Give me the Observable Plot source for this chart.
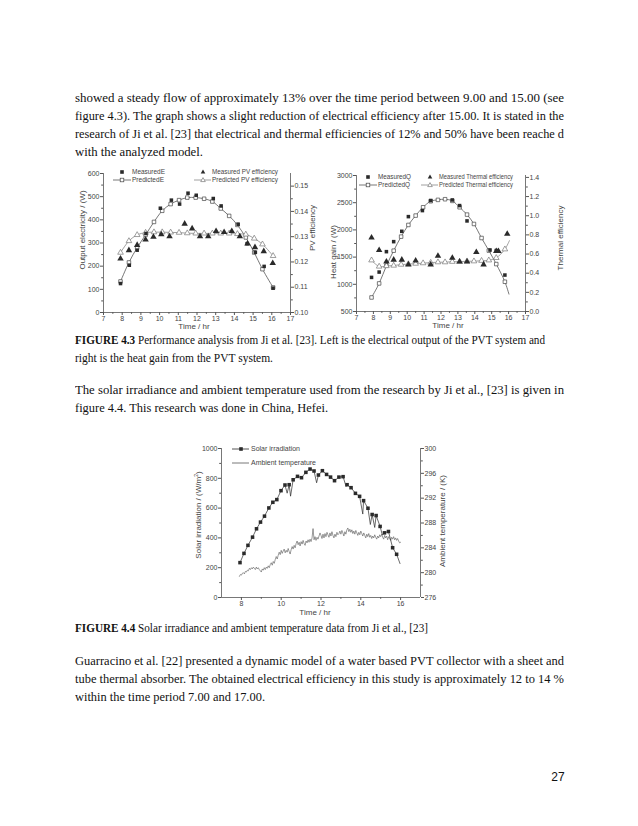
<!DOCTYPE html>
<html><head><meta charset="utf-8">
<script src="https://cdn.jsdelivr.net/npm/d3@7"></script>
<script src="https://cdn.jsdelivr.net/npm/@observablehq/plot@0.6"></script>
<style>
body{margin:0;background:#fff;}
#page{position:relative;width:638px;height:826px;overflow:hidden;background:#fff;}
.ln{position:absolute;left:75px;white-space:nowrap;font-family:"Liberation Serif","DejaVu Serif",serif;color:#111;transform-origin:0 50%;line-height:1;}
.body{font-size:13px;}
.cap{font-size:11.5px;}
.chart{position:absolute;}
.lab{position:absolute;font-family:"Liberation Sans",Arial,sans-serif;font-size:8px;color:#444;white-space:nowrap;transform:translate(-50%,-50%);}
.rot{transform:translate(-50%,-50%) rotate(-90deg);}
#pn{position:absolute;left:558px;top:777px;transform:translate(-50%,-50%);font-family:"Liberation Sans",Arial,sans-serif;font-size:12px;color:#111;}
</style>
</head><body>
<div id="page">
<div class="ln body" data-w="489" data-j="1" style="top:91px">showed a steady flow of approximately 13% over the time period between 9.00 and 15.00 (see</div>
<div class="ln body" data-w="489" data-j="1" style="top:109px">figure 4.3). The graph shows a slight reduction of electrical efficiency after 15.00. It is stated in the</div>
<div class="ln body" data-w="489" data-j="1" style="top:127px">research of Ji et al. [23] that electrical and thermal efficiencies of 12% and 50% have been reache d</div>
<div class="ln body" data-w="128" style="top:145px">with the analyzed model.</div>

<div class="ln cap" data-w="470" style="top:335px"><b>FIGURE 4.3</b> Performance analysis from Ji et al. [23]. Left is the electrical output of the PVT system and</div>
<div class="ln cap" data-w="198" style="top:353px">right is the heat gain from the PVT system.</div>

<div class="ln body" data-w="489" data-j="1" style="top:383px">The solar irradiance and ambient temperature used from the research by Ji et al., [23] is given in</div>
<div class="ln body" data-w="253" style="top:401px">figure 4.4. This research was done in China, Hefei.</div>

<div class="ln cap" data-w="353" style="top:623px"><b>FIGURE 4.4</b> Solar irradiance and ambient temperature data from Ji et al., [23]</div>

<div class="ln body" data-w="489" data-j="1" style="top:654px">Guarracino et al. [22] presented a dynamic model of a water based PVT collector with a sheet and</div>
<div class="ln body" data-w="489" data-j="1" style="top:672px">tube thermal absorber. The obtained electrical efficiency in this study is approximately 12 to 14 %</div>
<div class="ln body" data-w="190" style="top:690px">within the time period 7.00 and 17.00.</div>

<div id="pn">27</div>

<div id="chartA" class="chart" style="left:78px;top:163px"></div>
<div id="chartB" class="chart" style="left:328px;top:163px"></div>
<div id="chartC" class="chart" style="left:190px;top:440px"></div>

<div class="lab rot" style="left:82px;top:230px">Output electricity / (W)</div>
<div class="lab rot" style="left:312px;top:228px">PV efficiency</div>
<div class="lab" style="left:194px;top:326px">Time / hr</div>

<div class="lab rot" style="left:333px;top:252px">Heat gain / (W)</div>
<div class="lab rot" style="left:560px;top:238px">Thermal efficiency</div>
<div class="lab" style="left:448px;top:325px">Time / hr</div>

<div class="lab rot" style="left:198px;top:515px">Solar irradiation / (W/m<sup style="font-size:5px">2</sup>)</div>
<div class="lab rot" style="left:442px;top:521px">Ambient temperature / (K)</div>
<div class="lab" style="left:315px;top:612px">Time / hr</div>

<svg id="legend" width="638" height="826" style="position:absolute;left:0;top:0;pointer-events:none"></svg>
</div>
<script>
// ---------- Chart A: electrical output ----------
const measE_t = [7.91, 8.38, 8.80, 9.27, 10.04, 10.63, 11.07, 11.52, 11.96, 12.87, 13.29, 14.20, 14.68, 15.12, 15.59, 16.07];
const measE   = [125, 204, 269, 341, 450, 485, 468, 515, 506, 492, 460, 381, 297, 260, 199, 105];
const predE_t = [7.91, 8.36, 8.80, 9.25, 9.70, 10.14, 10.59, 11.04, 11.48, 11.93, 12.38, 12.82, 13.27, 13.72, 14.16, 14.61, 15.06, 15.50, 16.07];
const predE   = [134, 216, 280, 335, 391, 439, 468, 485, 496, 496, 491, 479, 449, 417, 378, 324, 259, 187, 108];
const measPV_t = [7.91, 8.36, 8.80, 9.25, 9.67, 10.09, 10.53, 11.34, 11.74, 12.16, 12.60, 13.02, 13.45, 13.86, 14.29, 14.70, 15.10, 15.57, 16.05];
const measPV   = [0.1213, 0.1246, 0.1267, 0.1288, 0.1299, 0.1309, 0.1301, 0.1351, 0.1332, 0.1301, 0.1301, 0.1322, 0.1318, 0.1322, 0.1301, 0.1272, 0.1258, 0.1242, 0.1195];
const predPV   = [0.1237, 0.1283, 0.1307, 0.1316, 0.1318, 0.1318, 0.1317, 0.1316, 0.1314, 0.1313, 0.1313, 0.1313, 0.1313, 0.1313, 0.1311, 0.1309, 0.1293, 0.1270, 0.1224];
const ticksE = [0, 100, 200, 300, 400, 500, 600];
const ticksPV = [0.10, 0.11, 0.12, 0.13, 0.14, 0.15];

// ---------- Chart B: heat gain ----------
const measQ_t = [7.89, 8.34, 8.77, 9.20, 9.68, 10.07, 10.90, 11.39, 12.67, 13.10, 13.54, 14.90, 15.27, 15.78];
const measQ   = [1127, 1225, 1600, 1784, 1974, 2244, 2355, 2540, 2550, 2447, 2165, 1630, 1620, 1170];
const predQ_t = [7.89, 8.34, 8.77, 9.20, 9.64, 10.07, 10.50, 10.94, 11.39, 11.82, 12.24, 12.67, 13.10, 13.54, 13.95, 14.40, 14.83, 15.27, 15.78];
const predQ   = [758, 1016, 1341, 1618, 1876, 2091, 2263, 2416, 2527, 2552, 2564, 2533, 2416, 2281, 2109, 1851, 1620, 1372, 1047];
const predQEnd = [16.02, 820];
const measTh_t = [7.89, 8.34, 8.77, 9.20, 9.68, 10.07, 10.50, 11.39, 11.82, 12.67, 13.10, 13.54, 14.09, 14.52, 15.27, 15.40, 15.92];
const measTh   = [0.77, 0.64, 0.52, 0.54, 0.54, 0.49, 0.53, 0.49, 0.58, 0.56, 0.52, 0.52, 0.62, 0.49, 0.63, 0.63, 0.81];
const predTh   = [0.535, 0.47, 0.475, 0.48, 0.49, 0.495, 0.50, 0.505, 0.51, 0.515, 0.515, 0.52, 0.52, 0.525, 0.525, 0.53, 0.535, 0.56, 0.65];
const predThEnd = [16.05, 0.74];
const ticksQ = [500, 1000, 1500, 2000, 2500, 3000];
const ticksTh = [0.0, 0.2, 0.4, 0.6, 0.8, 1.0, 1.2, 1.4];

// ---------- Chart C: solar irradiation & ambient temperature ----------
const solar_t = [7.93, 8.13, 8.33, 8.56, 8.76, 8.96, 9.16, 9.38, 9.58, 9.78, 9.99, 10.19, 10.40, 10.60, 10.82, 11.02, 11.24, 11.45, 11.65, 11.87, 12.07, 12.28, 12.48, 12.68, 12.90, 13.11, 13.31, 13.51, 13.73, 13.94, 14.14, 14.36, 14.57, 14.77, 14.97, 15.19, 15.39, 15.60, 15.80];
const solar   = [234, 296, 350, 405, 461, 506, 546, 601, 639, 657, 717, 755, 757, 790, 813, 804, 840, 862, 849, 822, 851, 826, 808, 784, 808, 811, 757, 737, 699, 679, 650, 599, 557, 550, 477, 434, 443, 334, 290];
const solarDip_t = [10.30, 10.47, 11.78, 13.26, 14.10, 14.48, 14.70, 15.08, 15.97];
const solarDip   = [700, 680, 770, 745, 560, 490, 470, 420, 228];
const ambStart = 7.90, ambStep = 0.05;
const ambient = [
 279.4, 279.7, 279.6, 279.9, 280.0, 279.8, 280.2, 280.1, 280.4, 280.3, 280.7, 280.5, 280.8, 280.6, 280.9, 280.7, 280.5, 280.9, 280.6, 280.8,
 280.5, 280.3, 280.1, 280.6, 280.4, 280.8, 280.5, 280.9, 280.7, 281.1, 280.8, 281.3, 281.6, 281.2, 281.8, 281.5, 282.1, 282.6, 282.2, 282.8,
 283.3, 282.9, 283.6, 283.1, 283.5, 283.8, 283.2, 283.6, 283.3, 283.9, 283.4, 283.0, 283.7, 284.2, 283.8, 284.4, 284.0, 284.7, 285.1, 284.5,
 284.9, 284.3, 285.0, 284.6, 285.2, 284.7, 284.4, 285.1, 284.8, 285.3, 284.9, 285.4, 285.0, 285.6, 287.1, 285.3, 285.8, 285.2, 285.7, 285.4,
 285.9, 286.4, 286.0, 285.5, 286.2, 285.6, 286.3, 285.8, 286.5, 286.1, 285.7, 286.4, 285.9, 286.6, 286.0, 285.6, 286.2, 285.8, 286.5, 286.1,
 286.3, 286.7, 286.2, 286.8, 286.4, 285.9, 286.6, 286.2, 286.9, 287.2, 286.6, 287.0, 286.5, 286.9, 286.3, 286.7, 286.2, 286.8, 286.4, 286.0,
 286.5, 286.1, 286.7, 286.3, 285.9, 286.4, 286.0, 285.6, 286.2, 285.8, 286.3, 285.7, 286.0, 285.5, 285.9, 285.6, 286.1, 285.7, 285.4, 285.9,
 285.6, 286.1, 285.8, 286.2, 285.7, 285.4, 286.0, 285.6, 285.9, 285.3, 285.8, 285.5, 285.2, 285.7, 285.4, 285.8, 285.3, 285.6, 285.2, 285.5,
 285.1, 284.8, 284.9];
const ticksS = [0, 200, 400, 600, 800, 1000];
const ticksK = [276, 280, 284, 288, 292, 296, 300];
const ticksTimeAB = [7, 8, 9, 10, 11, 12, 13, 14, 15, 16, 17];
const ticksTimeC = [8, 10, 12, 14, 16];

// ---------- helpers ----------
const INK = "#2a2a2a", AX = "#555";
const style = {fontFamily: "Liberation Sans, Arial, sans-serif", fontSize: "7px", color: "#444", background: "transparent", overflow: "visible"};
const mid = a => a.slice(1).map((v, i) => (v + a[i]) / 2);
const plain = d => String(d);

const toA = e => (e - 0.10) * 600 / 0.055, fromA = v => 0.10 + v * 0.055 / 600;
const toB = e => 500 + e * 2500 / 1.42, fromB = v => (v - 500) * 1.42 / 2500;
const toC = k => (k - 276) * 1000 / 24, fromC = v => 276 + v * 24 / 1000;

function frameMarks(xd, yd, xt, xminor, yl, ylminor, yr, yrminor, fmtR) {
  return [
    Plot.ruleX([xd[0], xd[1]], {stroke: AX, strokeWidth: 0.8}),
    Plot.ruleY([yd[0]], {stroke: AX, strokeWidth: 0.8}),
    Plot.axisX({ticks: xt, tickSize: 3, tickPadding: 1, tickFormat: plain, label: null, stroke: AX}),
    Plot.axisX({ticks: xminor, tickSize: 1.8, tickFormat: () => "", label: null, stroke: AX}),
    Plot.axisY({ticks: yl, tickSize: 3, tickPadding: 1, tickFormat: plain, label: null, stroke: AX}),
    Plot.axisY({ticks: ylminor, tickSize: 1.8, tickFormat: () => "", label: null, stroke: AX}),
    Plot.axisY({anchor: "right", ticks: yr, tickSize: 3, tickPadding: 1, tickFormat: fmtR, label: null, stroke: AX}),
    Plot.axisY({anchor: "right", ticks: yrminor, tickSize: 1.8, tickFormat: () => "", label: null, stroke: AX})
  ];
}

// ---------- Chart A ----------
{
  const mE = measE_t.map((t, i) => ({t, v: measE[i]}));
  const pE = predE_t.map((t, i) => ({t, v: predE[i]}));
  const mP = measPV_t.map((t, i) => ({t, v: toA(measPV[i])}));
  const pP = predE_t.map((t, i) => ({t, v: toA(predPV[i])}));
  const yr = ticksPV.map(toA);
  const chart = Plot.plot({
    width: 245, height: 175, marginLeft: 25, marginRight: 33, marginTop: 10, marginBottom: 26,
    x: {domain: [7, 17], axis: null}, y: {domain: [0, 600], axis: null}, style,
    marks: [
      ...frameMarks([7, 17], [0, 600], ticksTimeAB, mid(ticksTimeAB), ticksE, mid(ticksE), yr, mid(yr), v => fromA(v).toFixed(2)),
      Plot.line(pE, {x: "t", y: "v", curve: "catmull-rom", stroke: "#555", strokeWidth: 0.8}),
      Plot.line(pP, {x: "t", y: "v", curve: "catmull-rom", stroke: "#888", strokeWidth: 0.8}),
      Plot.dot(pE, {x: "t", y: "v", symbol: "square", r: 2, stroke: "#444", fill: "white", strokeWidth: 0.7}),
      Plot.dot(pP, {x: "t", y: "v", symbol: "triangle", r: 2.1, stroke: "#777", fill: "white", strokeWidth: 0.7}),
      Plot.dot(mE, {x: "t", y: "v", symbol: "square", r: 2, fill: INK}),
      Plot.dot(mP, {x: "t", y: "v", symbol: "triangle", r: 2.4, fill: INK})
    ]
  });
  document.getElementById("chartA").append(chart);
}

// ---------- Chart B ----------
{
  const mQ = measQ_t.map((t, i) => ({t, v: measQ[i]}));
  const pQ = predQ_t.map((t, i) => ({t, v: predQ[i]}));
  const pQline = [...pQ, {t: predQEnd[0], v: predQEnd[1]}];
  const mT = measTh_t.map((t, i) => ({t, v: toB(measTh[i])}));
  const pT = predQ_t.map((t, i) => ({t, v: toB(predTh[i])}));
  const pTline = [...pT, {t: predThEnd[0], v: toB(predThEnd[1])}];
  const yr = ticksTh.map(toB);
  const chart = Plot.plot({
    width: 240, height: 175, marginLeft: 28, marginRight: 43, marginTop: 12, marginBottom: 27,
    x: {domain: [7, 17], axis: null}, y: {domain: [500, 3000], axis: null}, style,
    marks: [
      ...frameMarks([7, 17], [500, 3000], ticksTimeAB, mid(ticksTimeAB), ticksQ, mid(ticksQ), yr, mid(yr), v => Math.abs(fromB(v)).toFixed(1)),
      Plot.line(pQline, {x: "t", y: "v", curve: "catmull-rom", stroke: "#555", strokeWidth: 0.8}),
      Plot.line(pTline, {x: "t", y: "v", curve: "catmull-rom", stroke: "#888", strokeWidth: 0.8}),
      Plot.dot(pQ, {x: "t", y: "v", symbol: "square", r: 2, stroke: "#444", fill: "white", strokeWidth: 0.7}),
      Plot.dot(pT, {x: "t", y: "v", symbol: "triangle", r: 2.1, stroke: "#777", fill: "white", strokeWidth: 0.7}),
      Plot.dot(mQ, {x: "t", y: "v", symbol: "square", r: 2, fill: INK}),
      Plot.dot(mT, {x: "t", y: "v", symbol: "triangle", r: 2.4, fill: INK})
    ]
  });
  document.getElementById("chartB").append(chart);
}

// ---------- Chart C ----------
{
  const sq = solar_t.map((t, i) => ({t, v: solar[i]}));
  const sline = [...sq, ...solarDip_t.map((t, i) => ({t, v: solarDip[i]}))].sort((a, b) => a.t - b.t);
  const amb = ambient.map((k, i) => ({t: ambStart + i * ambStep, v: toC(k)}));
  const yr = ticksK.map(toC);
  const chart = Plot.plot({
    width: 260, height: 180, marginLeft: 31, marginRight: 30, marginTop: 8, marginBottom: 23,
    x: {domain: [7, 17], axis: null}, y: {domain: [0, 1000], axis: null}, style,
    marks: [
      ...frameMarks([7, 17], [0, 1000], ticksTimeC, [9, 11, 13, 15], ticksS, mid(ticksS), yr, mid(yr), v => Math.round(fromC(v)).toString()),
      Plot.line(amb, {x: "t", y: "v", stroke: "#555", strokeWidth: 0.6}),
      Plot.line(sline, {x: "t", y: "v", stroke: INK, strokeWidth: 0.7}),
      Plot.dot(sq, {x: "t", y: "v", symbol: "square", r: 2, fill: INK})
    ]
  });
  document.getElementById("chartC").append(chart);
}

// ---------- legends ----------
{
  const L = d3.select("#legend");
  const item = (o) => {
    const g = L.append("g");
    if (o.line) g.append("line").attr("x1", o.x1).attr("x2", o.x2).attr("y1", o.y).attr("y2", o.y).attr("stroke", o.lc || "#555").attr("stroke-width", 0.8);
    if (o.sym === "square") g.append("rect").attr("x", o.sx - 1.8).attr("y", o.y - 1.8).attr("width", 3.6).attr("height", 3.6)
      .attr("fill", o.filled ? INK : "white").attr("stroke", o.filled ? "none" : "#444").attr("stroke-width", 0.7);
    if (o.sym === "triangle") g.append("path").attr("d", `M${o.sx},${o.y - 2.4}L${o.sx + 2.3},${o.y + 1.6}L${o.sx - 2.3},${o.y + 1.6}Z`)
      .attr("fill", o.filled ? INK : "white").attr("stroke", o.filled ? "none" : "#777").attr("stroke-width", 0.7);
    g.append("text").attr("x", o.tx).attr("y", o.y).attr("dy", "0.35em")
      .attr("font-family", "Liberation Sans, Arial, sans-serif").attr("font-size", 7).attr("fill", "#444")
      .attr("textLength", o.w).attr("lengthAdjust", "spacingAndGlyphs").text(o.text);
  };
  // chart A
  item({sym: "square", filled: true, sx: 122, y: 172, tx: 132, w: 33, text: "MeasuredE"});
  item({sym: "square", filled: false, line: true, x1: 113, x2: 131, sx: 122, y: 180, tx: 132, w: 32, text: "PredictedE"});
  item({sym: "triangle", filled: true, sx: 203, y: 172, tx: 212, w: 66, text: "Measured PV efficiency"});
  item({sym: "triangle", filled: false, line: true, lc: "#888", x1: 194, x2: 211, sx: 203, y: 180, tx: 212, w: 66, text: "Predicted PV efficiency"});
  // chart B
  item({sym: "square", filled: true, sx: 368, y: 177, tx: 378, w: 33, text: "MeasuredQ"});
  item({sym: "square", filled: false, line: true, x1: 359, x2: 377, sx: 368, y: 185, tx: 378, w: 32, text: "PredictedQ"});
  item({sym: "triangle", filled: true, sx: 430, y: 177, tx: 439, w: 74, text: "Measured Thermal efficiency"});
  item({sym: "triangle", filled: false, line: true, lc: "#888", x1: 421, x2: 438, sx: 430, y: 185, tx: 439, w: 74, text: "Predicted Thermal efficiency"});
  // chart C
  item({sym: "square", filled: true, line: true, lc: INK, x1: 232, x2: 249, sx: 241, y: 449, tx: 251, w: 49, text: "Solar irradiation"});
  item({line: true, x1: 232, x2: 249, y: 463, tx: 251, w: 65, text: "Ambient temperature"});
}

// ---------- fit text lines to measured widths ----------
document.querySelectorAll(".ln").forEach(el => {
  const w = +el.dataset.w;
  const nat = el.getBoundingClientRect().width;
  const spaces = (el.textContent.match(/ /g) || []).length;
  if (el.dataset.j && nat < w && spaces) el.style.wordSpacing = ((w - nat) / spaces) + "px";
  else el.style.transform = `scaleX(${w / nat})`;
});
</script>
</body></html>
